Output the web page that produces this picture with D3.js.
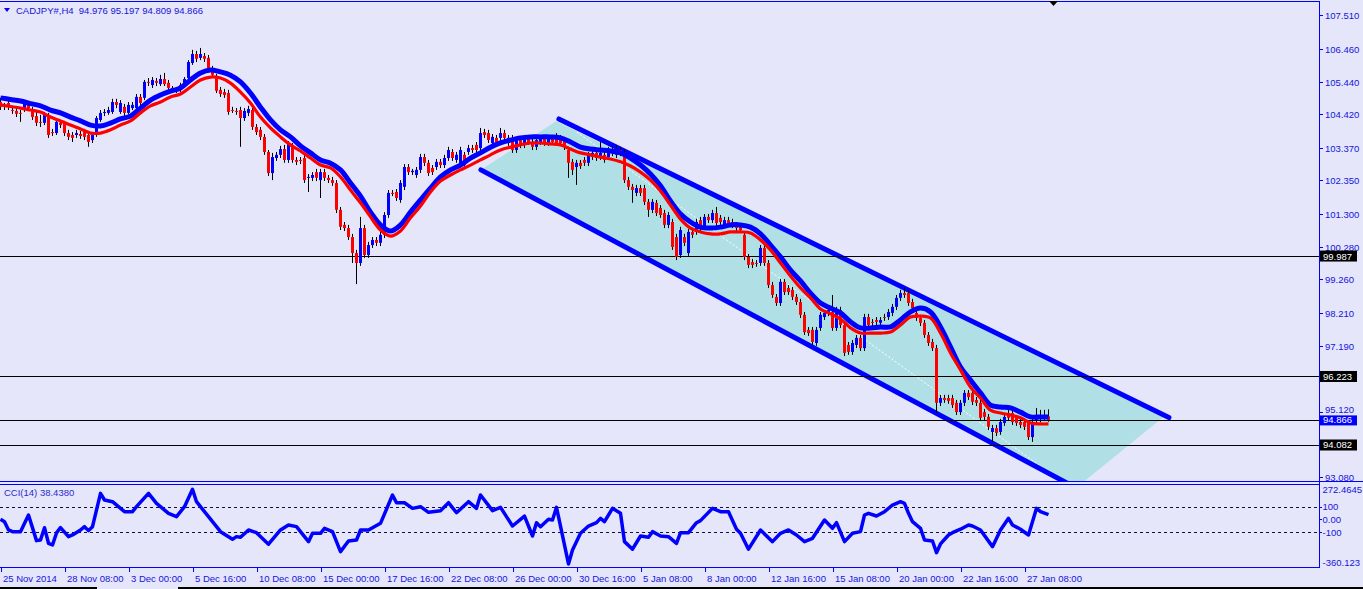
<!DOCTYPE html>
<html><head><meta charset="utf-8">
<script src="https://cdn.jsdelivr.net/npm/d3@7"></script>
<style>
body{margin:0;background:#e6e6fa;overflow:hidden}
svg{display:block}
text{font-family:"Liberation Sans",Arial,sans-serif;font-size:9.5px}
</style></head>
<body><svg id="c" width="1363" height="589"></svg>
<script>
const symbolTitle = "CADJPY#,H4  94.976 95.197 94.809 94.866";
const cciTitle = "CCI(14) 38.4380";

const opens=[104.80,104.65,104.77,104.55,104.52,104.46,104.55,104.71,104.55,104.36,
104.18,104.15,104.40,103.86,103.83,104.15,104.15,103.83,103.77,103.77,
103.80,103.86,103.77,103.61,103.77,104.24,104.46,104.46,104.49,104.80,
104.49,104.65,104.46,104.61,104.61,104.96,104.93,105.43,105.33,105.46,
105.36,105.52,105.40,105.24,105.18,105.18,105.33,105.55,106.02,106.30,
106.18,106.24,106.18,105.83,105.58,105.18,105.11,105.08,104.55,104.52,
104.55,104.30,104.46,104.55,104.02,103.93,103.71,103.24,102.58,103.05,
103.15,103.33,102.99,103.46,102.99,102.99,103.05,102.43,102.43,102.61,
102.36,102.61,102.43,102.36,102.27,101.43,100.96,100.86,100.58,100.08,
99.77,100.86,100.02,100.33,100.49,100.40,100.65,101.27,101.96,101.99,
101.74,102.15,102.77,102.61,102.52,102.68,103.08,102.90,102.74,102.77,
102.93,102.83,103.05,103.24,102.99,102.83,103.15,103.24,103.36,103.46,
103.36,103.86,103.83,103.52,103.68,103.68,103.83,103.52,103.68,103.30,
103.61,103.46,103.68,103.55,103.40,103.55,103.68,103.52,103.68,103.71,
103.68,103.61,103.30,102.93,102.77,102.90,102.99,102.90,103.08,103.21,
103.08,103.15,103.08,103.30,103.15,103.30,103.24,102.36,102.15,101.96,
102.11,102.11,101.68,101.43,101.65,101.49,101.33,100.96,101.05,100.58,
100.02,100.58,100.08,100.74,100.74,101.11,100.90,101.21,101.11,101.33,
101.18,100.96,101.11,101.05,100.96,100.90,100.65,99.96,99.80,99.77,
99.77,100.24,99.77,99.08,98.71,98.52,99.18,98.99,98.93,98.71,
98.55,98.15,97.68,97.68,97.27,97.74,98.08,98.21,98.24,97.74,
98.30,97.83,97.21,96.99,97.21,97.43,97.11,98.08,97.93,97.99,
97.90,98.08,98.08,98.21,98.40,98.68,98.83,98.83,98.55,98.21,
98.05,97.90,97.52,97.30,97.11,95.40,95.55,95.55,95.55,95.40,
95.11,95.40,95.71,95.71,95.49,95.40,95.11,94.96,94.49,94.61,
94.49,94.77,95.08,95.08,94.93,94.80,94.80,94.77,94.33,94.86,
94.90,94.93,94.976];
const highs=[104.93,104.77,104.86,104.68,104.61,104.55,104.83,104.80,104.65,104.49,
104.40,104.49,104.46,103.96,104.24,104.24,104.21,103.93,103.86,103.93,
103.90,103.96,103.83,103.86,104.36,104.55,104.58,104.65,104.90,104.90,
104.86,104.74,104.80,104.80,105.05,105.05,105.49,105.55,105.58,105.55,
105.65,105.71,105.49,105.30,105.27,105.40,105.58,106.11,106.43,106.40,
106.49,106.33,106.27,105.93,105.68,105.27,105.21,105.18,104.65,104.61,
104.65,104.61,104.68,104.65,104.11,104.02,103.80,103.30,103.21,103.24,
103.43,103.46,103.58,103.52,103.08,103.08,103.15,102.55,102.61,102.71,
102.71,102.71,102.52,102.46,102.36,101.52,101.05,100.96,100.68,100.18,
101.21,100.96,100.43,100.58,100.58,100.74,101.36,102.05,102.05,102.08,
102.36,102.86,102.86,102.71,102.77,103.18,103.18,102.99,102.83,103.02,
103.02,103.15,103.40,103.33,103.24,103.40,103.24,103.46,103.46,103.55,
103.99,103.96,103.93,103.80,103.77,103.99,103.93,103.77,103.77,103.71,
103.71,103.77,103.77,103.65,103.71,103.77,103.77,103.77,103.77,103.83,
103.77,103.71,103.40,103.02,102.99,102.99,103.08,103.24,103.30,103.30,
103.55,103.24,103.40,103.40,103.46,103.40,103.33,102.46,102.24,102.21,
102.21,102.21,101.77,101.77,101.74,101.58,101.43,101.36,101.15,100.68,
100.90,100.68,100.83,100.83,101.15,101.21,101.30,101.30,101.43,101.52,
101.27,101.21,101.21,101.15,101.05,100.99,100.74,100.05,99.90,99.86,
100.33,100.33,99.86,99.18,98.80,99.27,99.27,99.08,99.02,98.80,
98.65,98.24,97.77,97.77,97.77,98.24,98.30,98.40,98.77,98.40,
98.40,97.93,97.30,97.36,97.52,97.52,98.18,98.18,98.02,98.08,
98.08,98.18,98.33,98.49,98.77,98.93,99.02,98.93,98.65,98.30,
98.15,97.99,97.61,97.40,97.21,95.65,95.65,95.65,95.65,95.49,
95.49,95.80,95.80,95.80,95.58,95.49,95.21,95.05,94.71,94.71,
94.90,95.05,95.27,95.18,95.02,94.90,94.90,94.86,94.90,95.24,
95.18,95.18,95.197];
const lows=[104.55,104.55,104.55,104.43,104.33,104.18,104.49,104.52,104.24,104.05,
104.02,104.08,103.68,103.74,103.77,103.99,103.74,103.61,103.55,103.68,
103.65,103.61,103.40,103.52,103.71,104.18,104.36,104.40,104.43,104.61,
104.43,104.36,104.40,104.55,104.55,104.68,104.86,105.30,105.24,105.30,
105.30,105.30,105.15,105.08,105.08,105.11,105.24,105.49,105.96,106.05,
106.11,106.05,105.74,105.55,105.08,104.96,104.93,104.40,104.46,104.40,
103.40,104.21,104.36,103.93,103.77,103.61,103.15,102.49,102.36,102.96,
103.05,102.90,102.90,102.90,102.83,102.86,102.27,101.99,102.33,102.33,
101.80,102.33,102.27,102.18,101.33,100.80,100.77,100.49,99.77,99.11,
99.68,99.93,99.93,100.24,100.30,100.30,100.55,101.18,101.86,101.71,
101.65,102.05,102.52,102.52,102.43,102.58,102.80,102.49,102.52,102.68,
102.74,102.74,102.96,102.96,102.90,102.74,102.74,103.15,103.21,103.21,
103.27,103.68,103.52,103.43,103.46,103.58,103.58,103.43,103.21,103.21,
103.36,103.36,103.46,103.30,103.30,103.46,103.43,103.43,103.46,103.43,
103.43,103.30,102.43,102.52,102.21,102.71,102.80,102.80,102.99,102.96,
102.99,102.90,102.99,103.11,103.05,103.11,102.27,102.05,101.65,101.86,
101.86,101.58,101.21,101.33,101.24,101.18,100.86,100.86,100.18,99.86,
99.93,100.30,99.99,100.55,100.65,100.77,100.80,101.02,101.02,100.93,
100.96,100.86,100.93,100.86,100.77,100.71,99.86,99.61,99.61,99.65,
99.68,99.68,98.99,98.68,98.43,98.43,98.77,98.77,98.61,98.46,
98.05,97.52,97.49,97.21,97.18,97.65,97.99,98.11,97.65,97.65,
97.74,96.86,96.90,96.90,97.11,97.02,97.02,97.74,97.80,97.83,
97.80,97.96,97.99,98.11,98.30,98.58,98.68,98.43,98.27,97.96,
97.80,97.43,97.18,97.02,95.08,95.30,95.40,95.37,95.24,95.02,
95.02,95.30,95.49,95.33,95.30,94.83,94.86,94.55,94.18,94.36,
94.40,94.68,94.83,94.71,94.68,94.61,94.55,94.24,94.18,94.77,
94.80,94.83,94.809];
const closes=[104.65,104.68,104.65,104.52,104.43,104.43,104.74,104.61,104.33,104.15,
104.15,104.40,103.77,103.83,104.18,104.08,103.83,103.71,103.68,103.83,
103.74,103.71,103.55,103.77,104.30,104.46,104.49,104.55,104.80,104.71,
104.77,104.46,104.71,104.71,104.96,104.77,105.43,105.40,105.49,105.40,
105.52,105.36,105.24,105.18,105.18,105.33,105.52,106.05,106.30,106.15,
106.30,106.15,105.83,105.65,105.15,105.05,105.02,104.49,104.52,104.49,
104.30,104.52,104.58,104.02,103.86,103.71,103.24,102.58,103.08,103.15,
103.33,102.99,103.52,102.99,102.93,102.96,102.36,102.46,102.52,102.43,
102.61,102.43,102.36,102.27,101.43,100.90,100.86,100.58,100.08,99.77,
100.86,100.02,100.33,100.49,100.40,100.65,101.27,101.96,101.93,101.80,
102.27,102.77,102.61,102.65,102.68,103.08,102.90,102.58,102.61,102.93,
102.83,103.05,103.30,103.05,103.15,103.30,102.83,103.36,103.30,103.30,
103.83,103.77,103.61,103.71,103.55,103.83,103.68,103.68,103.30,103.61,
103.46,103.68,103.55,103.40,103.61,103.68,103.52,103.68,103.55,103.52,
103.52,103.40,102.90,102.68,102.90,102.80,102.90,103.15,103.21,103.05,
103.21,102.99,103.30,103.21,103.36,103.21,102.36,102.15,102.05,102.11,
101.96,101.68,101.43,101.68,101.33,101.27,100.96,101.27,100.27,99.96,
100.80,100.40,100.74,100.65,101.05,100.86,101.21,101.11,101.33,101.02,
101.05,101.11,101.02,100.96,100.86,100.80,99.96,99.71,99.71,99.74,
100.24,99.77,99.08,98.77,98.52,99.18,98.86,98.86,98.71,98.55,
98.15,97.61,97.58,97.30,97.68,98.15,98.21,98.30,97.74,98.30,
97.83,96.96,96.99,97.27,97.43,97.11,98.08,97.83,97.90,97.93,
97.99,98.05,98.24,98.40,98.68,98.83,98.77,98.52,98.36,98.05,
97.90,97.52,97.27,97.11,95.40,95.55,95.49,95.46,95.33,95.11,
95.40,95.71,95.58,95.43,95.40,94.93,94.96,94.65,94.61,94.46,
94.80,94.96,94.93,94.80,94.77,94.71,94.65,94.33,94.80,94.93,
94.96,94.90,94.866];

// moving averages, read every 2.5 bars (last value at bar 262)
const maBlue=[104.93,104.88,104.83,104.75,104.68,104.55,104.46,104.33,104.21,104.08,
104.05,104.14,104.27,104.36,104.61,104.86,105.02,105.14,105.24,105.49,
105.71,105.80,105.74,105.64,105.43,105.08,104.64,104.24,103.93,103.71,
103.43,103.21,102.99,102.89,102.68,102.27,101.86,101.36,100.96,100.77,
100.96,101.36,101.74,102.11,102.46,102.68,102.83,103.05,103.21,103.39,
103.52,103.61,103.68,103.71,103.71,103.71,103.68,103.55,103.39,103.33,
103.30,103.27,103.21,103.05,102.83,102.55,102.18,101.71,101.30,101.05,
100.89,100.86,100.89,100.96,100.96,100.89,100.68,100.33,99.96,99.55,
99.21,98.83,98.52,98.36,98.21,97.93,97.74,97.74,97.77,97.77,
97.99,98.24,98.36,98.24,97.77,97.15,96.52,96.11,95.71,95.33,
95.27,95.24,95.11,94.96,94.96,94.96];
const maRed=[104.71,104.66,104.61,104.55,104.49,104.33,104.21,104.08,103.96,103.83,
103.83,103.93,104.08,104.21,104.46,104.68,104.80,104.96,105.05,105.27,
105.49,105.58,105.55,105.39,105.11,104.77,104.33,103.99,103.71,103.46,
103.27,103.05,102.83,102.74,102.46,102.05,101.65,101.21,100.80,100.61,
100.77,101.18,101.55,101.99,102.33,102.52,102.68,102.83,102.99,103.15,
103.30,103.39,103.46,103.52,103.52,103.49,103.46,103.33,103.21,103.15,
103.08,103.02,102.93,102.80,102.61,102.36,102.02,101.58,101.14,100.86,
100.74,100.68,100.68,100.74,100.74,100.71,100.49,100.18,99.77,99.36,
98.99,98.68,98.33,98.18,98.02,97.74,97.58,97.58,97.58,97.61,
97.83,98.08,98.11,98.05,97.58,96.96,96.43,95.89,95.55,95.17,
95.08,95.02,94.93,94.77,94.74,94.74];

const cciBars=[0,1,2,3,5,7,9,10,11,12,13,14,15,17,18,20,21,22,23,25,
26,28,31,33,34,37,39,42,44,46,48,49,52,55,58,59,60,62,64,67,
70,72,74,77,78,80,81,83,85,87,89,90,92,95,98,99,101,103,105,107,
110,112,114,117,119,120,123,125,128,131,133,134,135,137,138,139,142,143,145,147,
149,150,151,153,155,156,158,160,162,163,165,167,169,170,172,174,175,178,180,182,
184,185,187,190,193,195,197,199,201,203,206,208,209,211,213,215,216,217,219,221,
223,225,226,227,228,230,231,233,234,235,237,238,240,242,243,245,248,250,252,253,
255,257,259,260,262];
const cciValues=[2,-17,-82,-95,-95,35,-165,-160,-64,-186,-199,-105,-64,-134,-121,-82,-56,-87,-56,204,
152,139,61,61,100,204,126,48,22,100,236,139,22,-95,-154,-134,-139,-82,-103,-193,
-82,-43,-56,-173,-108,-108,-69,-95,-251,-168,-160,-82,-82,-30,191,131,131,87,100,56,
69,131,53,139,87,191,69,95,-51,27,-129,-25,-56,2,-4,95,-347,-238,-108,-51,
-25,9,-17,87,48,-173,-232,-129,-139,-95,-129,-134,-186,-103,-103,-25,-9,87,61,61,
-76,-108,-232,-82,-173,-108,-82,-121,-173,-147,-4,-69,-25,-173,-108,-95,35,48,27,61,
113,139,126,48,-17,-69,-160,-168,-259,-191,-121,-103,-76,-43,-51,-82,-212,-82,9,-43,
-76,-121,87,61,38.438];

const priceTicks=["107.510","106.460","105.440","104.420","103.370","102.350","101.300","100.280","99.260","98.210","97.190","95.120","93.080"];
const cciTickLabels=["272.4645","100","0.00","-100","-360.123"];
const cciTickValues=[272.4645,100,0,-100,-360.123];
const cciRange=[-360.123,272.4645];
const dateLabels=["25 Nov 2014","28 Nov 08:00","3 Dec 00:00","5 Dec 16:00","10 Dec 08:00","15 Dec 00:00","17 Dec 16:00","22 Dec 08:00","26 Dec 00:00","30 Dec 16:00","5 Jan 08:00","8 Jan 00:00","12 Jan 16:00","15 Jan 08:00","20 Jan 00:00","22 Jan 16:00","27 Jan 08:00"];
const levelLines=[99.987,96.223,94.866,94.082];
const levelLabels=["99.987","96.223","94.082"];
const bidPrice=94.866;
// channel objects: [bar index, price]
const channelFill=[[120.1,102.68],[138.9,104.20],[291.2,95.00],[268.9,92.74]];
const channelUpper=[[139.6,104.27],[292.1,94.94]];
const channelLower=[[120.1,102.68],[268.9,92.74]];
const dottedTrend=[[144.1,103.86],[265.0,92.97]];

const W=1363, H=589, AX=1319;
const BLUE="#0000ff", RED="#ff0000", TXT="#1414dc";
const svg=d3.select("#c");
const x=d3.scaleLinear().domain([0,262]).range([0.5,1048.5]);
const yP=d3.scaleLinear().domain([93.08,107.51]).range([477.06,15.3]);
const yC=d3.scaleLinear().domain(cciRange).range([565.6,484.6]);

const defs=svg.append("defs");
defs.append("clipPath").attr("id","mc").append("rect").attr("x",0).attr("y",2).attr("width",AX).attr("height",479);
defs.append("clipPath").attr("id","cc").append("rect").attr("x",0).attr("y",485).attr("width",AX).attr("height",82);

const main=svg.append("g").attr("clip-path","url(#mc)");
const pl=d3.line().x(d=>x(d[0])).y(d=>yP(d[1]));

main.append("path").attr("d",pl(channelFill)+"Z").attr("fill","#b0e0e6");
main.append("path").attr("d",pl(dottedTrend)).attr("stroke","#ffffff").attr("stroke-width",1).attr("stroke-dasharray","2,2").attr("fill","none");
[channelUpper,channelLower].forEach(c=>{
  main.append("path").attr("d",pl(c)).attr("stroke",BLUE).attr("stroke-width",5).attr("fill","none").attr("stroke-linecap","round");
});
levelLines.forEach(v=>{
  const yy=Math.round(yP(v))+0.5;
  main.append("line").attr("x1",0).attr("x2",AX).attr("y1",yy).attr("y2",yy).attr("stroke","#000").attr("stroke-width",1);
});

const bars=d3.range(opens.length);
const cg=main.append("g");
cg.selectAll("line.w").data(bars).join("line")
  .attr("x1",i=>x(i)).attr("x2",i=>x(i)).attr("y1",i=>yP(highs[i])).attr("y2",i=>yP(lows[i]))
  .attr("stroke","#000").attr("stroke-width",1);
cg.selectAll("rect.b").data(bars).join("rect")
  .attr("x",i=>x(i)-1.5).attr("width",3)
  .attr("y",i=>yP(Math.max(opens[i],closes[i])))
  .attr("height",i=>Math.max(1,Math.abs(yP(opens[i])-yP(closes[i]))))
  .attr("fill",i=>closes[i]>opens[i]?BLUE:(closes[i]<opens[i]?RED:"#000"));

const maX=d3.range(0,260.01,2.5).concat([262]);
const ml=d3.line().x((d,i)=>x(maX[i])).y(d=>yP(d)).curve(d3.curveCatmullRom);
main.append("path").attr("d",ml(maBlue)).attr("stroke",BLUE).attr("stroke-width",5).attr("fill","none");
main.append("path").attr("d",ml(maRed)).attr("stroke",RED).attr("stroke-width",3.2).attr("fill","none");

// frames
svg.append("line").attr("x1",0).attr("x2",AX).attr("y1",1.5).attr("y2",1.5).attr("stroke",BLUE);
svg.append("line").attr("x1",AX+0.5).attr("x2",AX+0.5).attr("y1",1).attr("y2",568).attr("stroke",BLUE);
svg.append("line").attr("x1",0).attr("x2",W).attr("y1",481.5).attr("y2",481.5).attr("stroke",BLUE);
svg.append("line").attr("x1",0).attr("x2",AX).attr("y1",484.5).attr("y2",484.5).attr("stroke",BLUE);
svg.append("line").attr("x1",0).attr("x2",AX).attr("y1",567.5).attr("y2",567.5).attr("stroke",BLUE);

// header
svg.append("path").attr("d","M4,8 L10,8 L7,12 Z").attr("fill",BLUE);
svg.append("text").attr("x",16).attr("y",13.5).attr("fill",TXT).style("white-space","pre").text(symbolTitle);
svg.append("path").attr("d","M1049,1 L1058,1 L1053.5,6 Z").attr("fill","#000");

// price axis
priceTicks.forEach(t=>{
  const yy=Math.round(yP(+t))+0.5;
  const shift = (t==="95.120") ? -2.5 : 0;
  svg.append("line").attr("x1",AX+1).attr("x2",AX+4).attr("y1",yy).attr("y2",yy).attr("stroke",BLUE);
  svg.append("text").attr("x",AX+6).attr("y",yy+3+shift).attr("fill",TXT).text(t);
});
levelLabels.forEach(t=>{
  const yy=yP(+t);
  svg.append("rect").attr("x",AX+1).attr("y",yy-5.5).attr("width",37).attr("height",11).attr("fill","#000");
  svg.append("text").attr("x",AX+4).attr("y",yy+3.5).attr("fill","#fff").text(t);
});
{
  const yy=yP(bidPrice);
  svg.append("rect").attr("x",AX+1).attr("y",yy-4.5).attr("width",37).attr("height",10).attr("fill",BLUE);
  svg.append("text").attr("x",AX+4).attr("y",yy+3.5).attr("fill","#fff").text(bidPrice.toFixed(3));
}

// CCI
const cci=svg.append("g").attr("clip-path","url(#cc)");
[100,-100].forEach(v=>{
  const yy=Math.round(yC(v))+0.5;
  cci.append("line").attr("x1",0).attr("x2",AX).attr("y1",yy).attr("y2",yy).attr("stroke","#101040").attr("stroke-dasharray","3,3");
});
const cl=d3.line().x((d,i)=>x(cciBars[i])).y(d=>yC(d));
cci.append("path").attr("d",cl(cciValues)).attr("stroke",BLUE).attr("stroke-width",3.5).attr("fill","none").attr("stroke-linejoin","round");
svg.append("text").attr("x",4).attr("y",496).attr("fill","#2a2ad0").text(cciTitle);
cciTickValues.forEach((v,k)=>{
  let yy=yC(v);
  if(k===0) yy+=5; if(k===cciTickValues.length-1) yy-=3.5;
  if(k>0&&k<4) svg.append("line").attr("x1",AX+1).attr("x2",AX+3).attr("y1",Math.round(yy)+0.5).attr("y2",Math.round(yy)+0.5).attr("stroke",BLUE);
  svg.append("text").attr("x",AX+3.5).attr("y",yy+3.5).attr("fill",TXT).text(cciTickLabels[k]);
});

// time axis
dateLabels.forEach((t,k)=>{
  const xx=Math.round(x(k*16))+0.5;
  svg.append("line").attr("x1",xx).attr("x2",xx).attr("y1",568).attr("y2",572).attr("stroke",BLUE);
  svg.append("text").attr("x",xx+1.5).attr("y",581.5).attr("fill",TXT).text(t);
});
svg.append("rect").attr("x",0).attr("y",587).attr("width",97).attr("height",2).attr("fill","#000");
svg.append("rect").attr("x",178).attr("y",587).attr("width",W-178).attr("height",2).attr("fill","#000");
</script></body></html>
